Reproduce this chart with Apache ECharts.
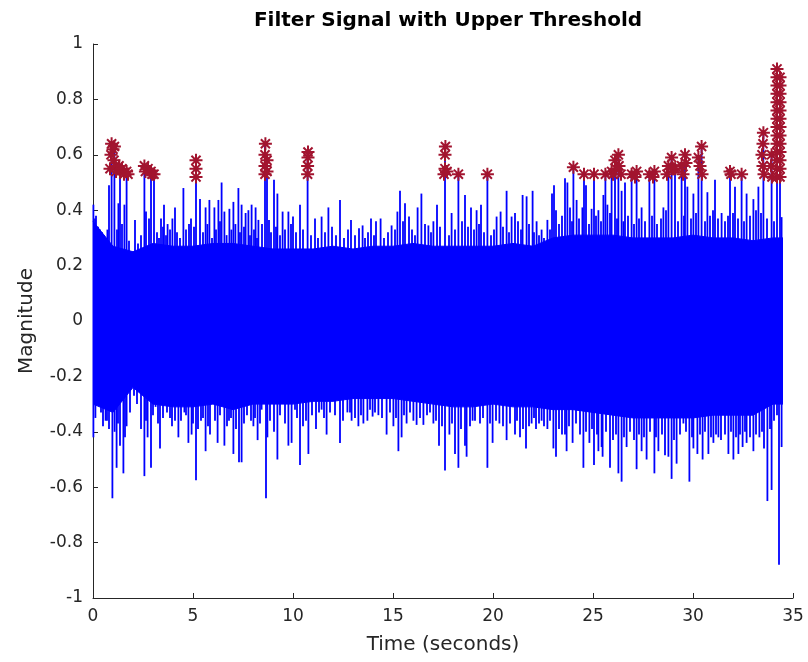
<!DOCTYPE html>
<html><head><meta charset="utf-8">
<script src="https://cdn.jsdelivr.net/npm/echarts@6/dist/echarts.min.js"></script>
<style>html,body{margin:0;padding:0;background:#fff}#c{width:808px;height:662px}</style>
</head><body><div id="c"></div>
<script>
// ---- data ----
const titleText = 'Filter Signal with Upper Threshold';
const xName = 'Time (seconds)';
const yName = 'Magnitude';

// dense body of the signal (envelope, 1 s steps)
const coreTime   = [0,1,2,3,4,5,6,7,8,9,10,11,12,13,14,15,16,17,18,19,20,21,22,23,24,25,26,27,28,29,30,31,32,33,34,34.5];
const coreTop    = [0.36,0.27,0.25,0.28,0.27,0.27,0.28,0.28,0.27,0.26,0.26,0.26,0.27,0.26,0.27,0.27,0.28,0.27,0.27,0.27,0.27,0.28,0.27,0.30,0.31,0.31,0.31,0.30,0.30,0.30,0.31,0.30,0.30,0.29,0.30,0.30];
const coreBottom = [-0.30,-0.33,-0.24,-0.30,-0.31,-0.31,-0.30,-0.32,-0.30,-0.30,-0.30,-0.29,-0.29,-0.28,-0.28,-0.28,-0.29,-0.30,-0.31,-0.31,-0.30,-0.31,-0.31,-0.32,-0.32,-0.33,-0.34,-0.35,-0.35,-0.35,-0.35,-0.34,-0.34,-0.34,-0.30,-0.30];

// tall upward spikes
const upTime  = [0.02,0.1,0.35,0.8,0.93,1.07,1.27,1.35,1.57,1.68,2.1,2.57,2.65,2.9,3.05,3.4,3.55,3.73,3.97,4.1,4.52,4.9,5.15,5.35,5.63,5.82,6.07,6.27,6.43,6.57,6.82,7.02,7.27,7.43,7.63,7.77,7.93,8.13,8.27,8.6,8.7,8.8,9.05,9.22,9.48,9.77,10.0,10.35,10.73,11.1,11.43,11.77,12.35,12.9,13.3,13.48,13.9,14.15,14.38,14.93,15.22,15.35,15.6,15.8,16.23,16.42,16.77,17.02,17.2,17.6,17.93,18.27,18.6,18.9,19.18,19.4,19.72,20.18,20.38,20.68,20.93,21.1,21.48,21.68,21.98,22.18,22.43,22.72,22.95,23.05,23.15,23.6,23.72,23.85,24.02,24.18,24.47,24.55,24.65,24.93,25.05,25.27,25.52,25.62,25.72,25.93,26.1,26.27,26.43,26.6,26.93,27.18,27.43,27.82,28.07,28.52,28.77,28.93,29.1,29.43,29.6,29.72,30.02,30.27,30.43,30.72,31.1,31.43,31.85,32.1,32.43,32.68,33.02,33.27,33.52,33.93,34.2,34.35,34.43];
const upValue = [0.42,0.37,0.33,0.49,0.64,0.63,0.425,0.56,0.42,0.54,0.365,0.56,0.395,0.54,0.53,0.37,0.42,0.35,0.37,0.41,0.48,0.37,0.58,0.44,0.41,0.437,0.41,0.437,0.50,0.395,0.405,0.43,0.48,0.42,0.39,0.40,0.42,0.41,0.365,0.64,0.58,0.365,0.51,0.46,0.395,0.395,0.377,0.42,0.61,0.37,0.377,0.41,0.437,0.365,0.335,0.345,0.37,0.36,0.37,0.345,0.395,0.47,0.425,0.377,0.41,0.46,0.345,0.36,0.42,0.63,0.39,0.53,0.455,0.41,0.40,0.42,0.53,0.377,0.395,0.47,0.377,0.39,0.455,0.45,0.47,0.36,0.33,0.365,0.46,0.49,0.40,0.515,0.50,0.41,0.555,0.437,0.41,0.53,0.49,0.405,0.53,0.40,0.455,0.53,0.42,0.54,0.58,0.60,0.47,0.50,0.53,0.54,0.41,0.53,0.54,0.41,0.56,0.59,0.55,0.56,0.60,0.485,0.46,0.59,0.63,0.465,0.51,0.39,0.54,0.485,0.53,0.46,0.44,0.485,0.68,0.60,0.91,0.88,0.375];

// short upward spikes along the top edge of the body
const upMinorTime = [
  0.15,0.25,0.45,0.55,0.65,0.72,1.2,1.45,1.8,1.95,
  2.25,2.4,2.8,3.2,3.3,3.5,3.65,3.85,4.2,4.35,
  4.65,4.8,5.05,5.5,5.72,5.95,6.15,6.35,6.68,6.92,
  7.12,7.35,7.55,7.85,8.05,8.2,8.45,8.9,9.15,9.35,
  9.6,9.9,10.15,10.5,10.9,11.25,11.6,11.95,12.15,12.55,
  12.75,13.1,13.6,13.75,14.05,14.55,14.75,15.1,15.5,15.95,
  16.1,16.6,16.9,17.35,17.8,18.1,18.45,18.75,19.05,19.3,
  19.55,19.9,20.05,20.5,20.8,21.25,21.4,21.8,22.05,22.3,
  22.55,22.85,23.3,23.45,23.95,24.3,24.8,25.15,25.4,25.85,
  26.2,26.52,26.75,27.05,27.3,27.6,27.95,28.2,28.4,28.65,
  29.25,29.55,29.9,30.15,30.6,30.85,31.0,31.25,31.6,31.75,
  32.0,32.25,32.55,32.85,33.15,33.4,33.7,34.05];
const upMinorValue = [
  0.38,0.34,0.32,0.31,0.30,0.33,0.33,0.35,0.29,0.25,
  0.28,0.31,0.37,0.32,0.30,0.34,0.31,0.33,0.32,0.30,
  0.33,0.35,0.34,0.32,0.35,0.30,0.33,0.36,0.31,0.33,
  0.35,0.32,0.34,0.31,0.33,0.30,0.35,0.32,0.34,0.31,
  0.33,0.35,0.32,0.33,0.31,0.30,0.32,0.34,0.31,0.30,
  0.33,0.31,0.30,0.32,0.31,0.30,0.32,0.33,0.36,0.33,
  0.31,0.35,0.32,0.34,0.31,0.33,0.36,0.34,0.33,0.35,
  0.32,0.31,0.33,0.34,0.32,0.36,0.33,0.35,0.32,0.31,
  0.30,0.33,0.35,0.38,0.36,0.37,0.35,0.38,0.36,0.39,
  0.37,0.36,0.38,0.35,0.37,0.36,0.38,0.35,0.37,0.40,
  0.36,0.38,0.37,0.39,0.36,0.38,0.40,0.37,0.36,0.38,
  0.39,0.37,0.36,0.38,0.40,0.39,0.37,0.36];

// tall downward spikes
const downTime  = [0.02,0.23,0.63,0.8,0.97,1.18,1.35,1.52,1.68,2.4,2.57,2.73,2.9,3.13,3.35,3.6,3.85,4.1,4.27,4.57,4.77,4.93,5.15,5.4,5.63,5.85,6.23,6.57,6.8,7.02,7.3,7.43,8.02,8.23,8.43,8.65,8.72,9.05,9.22,9.77,9.93,10.1,10.35,10.77,11.15,11.43,11.68,12.35,12.72,12.93,13.27,13.52,13.72,13.98,14.27,14.68,15.02,15.27,15.43,15.68,16.02,16.18,16.52,17.02,17.3,17.6,17.82,18.1,18.27,18.6,18.68,18.98,19.35,19.72,19.98,20.32,20.68,21.1,21.35,21.65,21.93,22.15,22.43,22.72,23.02,23.15,23.6,23.68,23.98,24.35,24.52,24.82,25.05,25.27,25.43,25.48,25.85,26.27,26.43,26.68,27.18,27.43,27.68,28.07,28.27,28.6,28.77,28.93,29.18,29.52,29.82,30.02,30.22,30.48,30.77,31.02,31.27,31.6,31.77,32.02,32.27,32.48,32.68,33.02,33.32,33.55,33.72,33.93,34.3,34.43];
const downValue = [-0.42,-0.28,-0.36,-0.39,-0.64,-0.53,-0.45,-0.55,-0.38,-0.39,-0.56,-0.42,-0.53,-0.31,-0.46,-0.29,-0.35,-0.36,-0.42,-0.33,-0.44,-0.41,-0.575,-0.36,-0.47,-0.41,-0.44,-0.45,-0.36,-0.48,-0.51,-0.51,-0.38,-0.43,-0.32,-0.64,-0.42,-0.40,-0.50,-0.45,-0.44,-0.32,-0.52,-0.48,-0.39,-0.32,-0.41,-0.44,-0.33,-0.36,-0.38,-0.37,-0.36,-0.345,-0.34,-0.41,-0.38,-0.47,-0.42,-0.37,-0.36,-0.375,-0.375,-0.37,-0.45,-0.54,-0.41,-0.48,-0.53,-0.45,-0.49,-0.36,-0.37,-0.53,-0.44,-0.37,-0.43,-0.41,-0.42,-0.46,-0.37,-0.39,-0.36,-0.39,-0.46,-0.49,-0.41,-0.47,-0.44,-0.41,-0.53,-0.44,-0.52,-0.47,-0.455,-0.49,-0.53,-0.55,-0.58,-0.455,-0.535,-0.47,-0.50,-0.55,-0.47,-0.485,-0.49,-0.57,-0.515,-0.37,-0.58,-0.46,-0.48,-0.50,-0.48,-0.44,-0.42,-0.41,-0.48,-0.50,-0.48,-0.455,-0.44,-0.47,-0.42,-0.46,-0.65,-0.61,-0.88,-0.455];

// short downward spikes along the bottom edge of the body
const downMinorTime = [
  0.12,0.4,0.5,0.7,1.08,1.25,1.6,1.85,2.05,2.2,
  2.65,3.0,3.25,3.5,3.7,3.95,4.4,4.65,5.0,5.25,
  5.5,5.75,6.1,6.35,6.7,6.9,7.15,7.55,7.7,7.9,
  8.1,8.35,8.85,9.35,9.6,10.2,10.5,10.65,10.95,11.3,
  11.55,11.85,12.1,12.5,12.85,13.1,13.4,13.85,14.1,14.45,
  14.85,15.15,15.55,15.85,16.35,16.7,16.85,17.15,17.45,17.95,
  18.4,18.85,19.1,19.5,19.85,20.15,20.5,20.85,21.2,21.5,
  21.8,22.05,22.3,22.55,22.85,23.3,23.45,23.8,24.15,24.65,
  24.95,25.2,25.65,26.0,26.15,26.55,26.85,27.05,27.3,27.55,
  27.85,28.15,28.45,29.05,29.35,29.65,29.95,30.35,30.6,30.9,
  31.15,31.4,31.9,32.15,32.35,32.6,32.85,33.15,33.45,33.85,
  34.05,34.2];
const downMinorValue = [
  -0.35,-0.33,-0.38,-0.36,-0.40,-0.37,-0.42,-0.33,-0.27,-0.30,
  -0.36,-0.34,-0.37,-0.35,-0.33,-0.38,-0.36,-0.34,-0.37,-0.39,
  -0.35,-0.38,-0.36,-0.34,-0.38,-0.35,-0.39,-0.37,-0.34,-0.36,
  -0.35,-0.37,-0.36,-0.34,-0.37,-0.35,-0.38,-0.36,-0.34,-0.33,
  -0.35,-0.33,-0.34,-0.36,-0.33,-0.35,-0.34,-0.32,-0.33,-0.35,
  -0.33,-0.35,-0.34,-0.33,-0.35,-0.34,-0.33,-0.36,-0.38,-0.37,
  -0.39,-0.38,-0.36,-0.35,-0.37,-0.36,-0.38,-0.37,-0.36,-0.39,
  -0.38,-0.35,-0.37,-0.38,-0.36,-0.39,-0.41,-0.38,-0.37,-0.40,
  -0.39,-0.41,-0.40,-0.43,-0.41,-0.42,-0.40,-0.43,-0.41,-0.42,
  -0.40,-0.42,-0.41,-0.43,-0.41,-0.40,-0.42,-0.41,-0.40,-0.42,
  -0.41,-0.43,-0.40,-0.42,-0.41,-0.40,-0.42,-0.41,-0.40,-0.39,
  -0.36,-0.34];

// samples above the upper threshold (red asterisks)
const peakTime  = [0.85,0.9,0.93,1.0,1.05,1.07,1.12,1.15,1.3,1.35,1.45,1.55,1.68,1.75,
  2.57,2.62,2.75,2.9,2.95,3.05,
  5.15,5.15,5.15,
  8.6,8.6,8.6,8.62,8.7,8.7,
  10.73,10.73,10.75,10.75,
  17.55,17.6,17.6,17.62,17.7,18.27,
  19.72,
  24.02,24.55,25.05,25.62,
  25.93,26.0,26.1,26.15,26.27,26.3,26.4,26.93,27.1,27.18,27.82,28.0,28.07,28.7,28.77,28.93,29.0,29.1,29.43,29.5,29.6,29.65,30.27,30.35,30.43,30.45,31.85,31.9,32.43,
  33.45,33.5,33.5,33.52,33.55,33.9,33.93,33.95,
  34.2,34.2,34.2,34.2,34.2,34.2,34.2,34.2,34.2,34.2,34.2,34.2,34.2,34.2,
  34.35,34.35,34.35,34.35,34.35,34.35,34.35,34.35,34.35,34.35,34.35,34.35,34.35];
const peakValue = [0.55,0.60,0.64,0.62,0.58,0.63,0.56,0.54,0.56,0.54,0.55,0.53,0.54,0.53,
  0.56,0.54,0.55,0.54,0.53,0.53,
  0.52,0.55,0.58,
  0.53,0.56,0.60,0.64,0.58,0.54,
  0.53,0.56,0.59,0.61,
  0.53,0.55,0.60,0.63,0.54,0.53,
  0.53,
  0.555,0.53,0.53,0.53,
  0.54,0.53,0.58,0.55,0.60,0.56,0.53,0.53,0.52,0.54,0.53,0.52,0.54,0.53,0.56,0.59,0.55,0.55,0.56,0.53,0.60,0.57,0.59,0.56,0.63,0.53,0.54,0.53,0.53,
  0.60,0.64,0.56,0.68,0.53,0.56,0.60,0.52,
  0.52,0.55,0.58,0.61,0.64,0.67,0.70,0.73,0.76,0.79,0.82,0.85,0.88,0.91,
  0.52,0.55,0.58,0.61,0.64,0.67,0.70,0.73,0.76,0.79,0.82,0.85,0.88];

// ---- chart ----
const BLUE = '#0000ff';
const RED = '#A2142F';
const AX = '#262626';
const FONT = '"DejaVu Sans", sans-serif';

const pairs = (t, v) => t.map((x, i) => [x, v[i]]);

function spikeItem(params, api) {
  const t = api.value(0);
  const p0 = api.coord([t, 0]);
  const p1 = api.coord([t, api.value(1)]);
  return { type: 'line', shape: { x1: p0[0], y1: p0[1], x2: p1[0], y2: p1[1] },
           style: { stroke: BLUE, lineWidth: 1.8 } };
}
function spikeSeries(t, v) {
  return { type: 'custom', data: pairs(t, v), renderItem: spikeItem,
           encode: { x: 0, y: 1 }, z: 3 };
}

const chart = echarts.init(document.getElementById('c'), null, { renderer: 'canvas' });
chart.setOption({
  animation: false,
  backgroundColor: '#fff',
  title: {
    text: titleText, left: 443, top: 6, textAlign: 'center',
    textStyle: { fontFamily: FONT, fontSize: 20, fontWeight: 'bold', color: '#000' }
  },
  grid: { left: 93, right: 15, top: 44, bottom: 64, containLabel: false },
  xAxis: {
    type: 'value', min: 0, max: 35, interval: 5,
    name: xName, nameLocation: 'middle', nameGap: 37,
    nameTextStyle: { fontFamily: FONT, fontSize: 20, color: AX },
    axisLine: { show: true, onZero: false, lineStyle: { color: AX, width: 1 } },
    axisTick: { show: true, inside: true, length: 5, lineStyle: { color: AX } },
    axisLabel: { fontFamily: FONT, fontSize: 17, color: AX, margin: 10 },
    splitLine: { show: false }
  },
  yAxis: {
    type: 'value', min: -1, max: 1, interval: 0.2,
    name: yName, nameLocation: 'middle', nameGap: 56,
    nameTextStyle: { fontFamily: FONT, fontSize: 20, color: AX },
    axisLine: { show: true, onZero: false, lineStyle: { color: AX, width: 1 } },
    axisTick: { show: true, inside: true, length: 5, lineStyle: { color: AX } },
    axisLabel: { fontFamily: FONT, fontSize: 17, color: AX, margin: 10,
                 formatter: v => String(+v.toFixed(1)) },
    splitLine: { show: false }
  },
  series: [
    { type: 'line', data: pairs(coreTime, coreTop), showSymbol: false, symbol: 'none',
      lineStyle: { color: BLUE, width: 1 }, areaStyle: { color: BLUE, opacity: 1 }, z: 2 },
    { type: 'line', data: pairs(coreTime, coreBottom), showSymbol: false, symbol: 'none',
      lineStyle: { color: BLUE, width: 1 }, areaStyle: { color: BLUE, opacity: 1 }, z: 2 },
    spikeSeries(upTime, upValue),
    spikeSeries(upMinorTime, upMinorValue),
    spikeSeries(downTime, downValue),
    spikeSeries(downMinorTime, downMinorValue),
    { type: 'scatter', data: pairs(peakTime, peakValue),
      symbol: 'path://M5,0L5,10M0,5L10,5M1.5,1.5L8.5,8.5M8.5,1.5L1.5,8.5',
      symbolSize: 13,
      itemStyle: { color: 'rgba(0,0,0,0)', borderColor: RED, borderWidth: 2, opacity: 1 },
      z: 5 }
  ]
});
</script>
</body></html>
